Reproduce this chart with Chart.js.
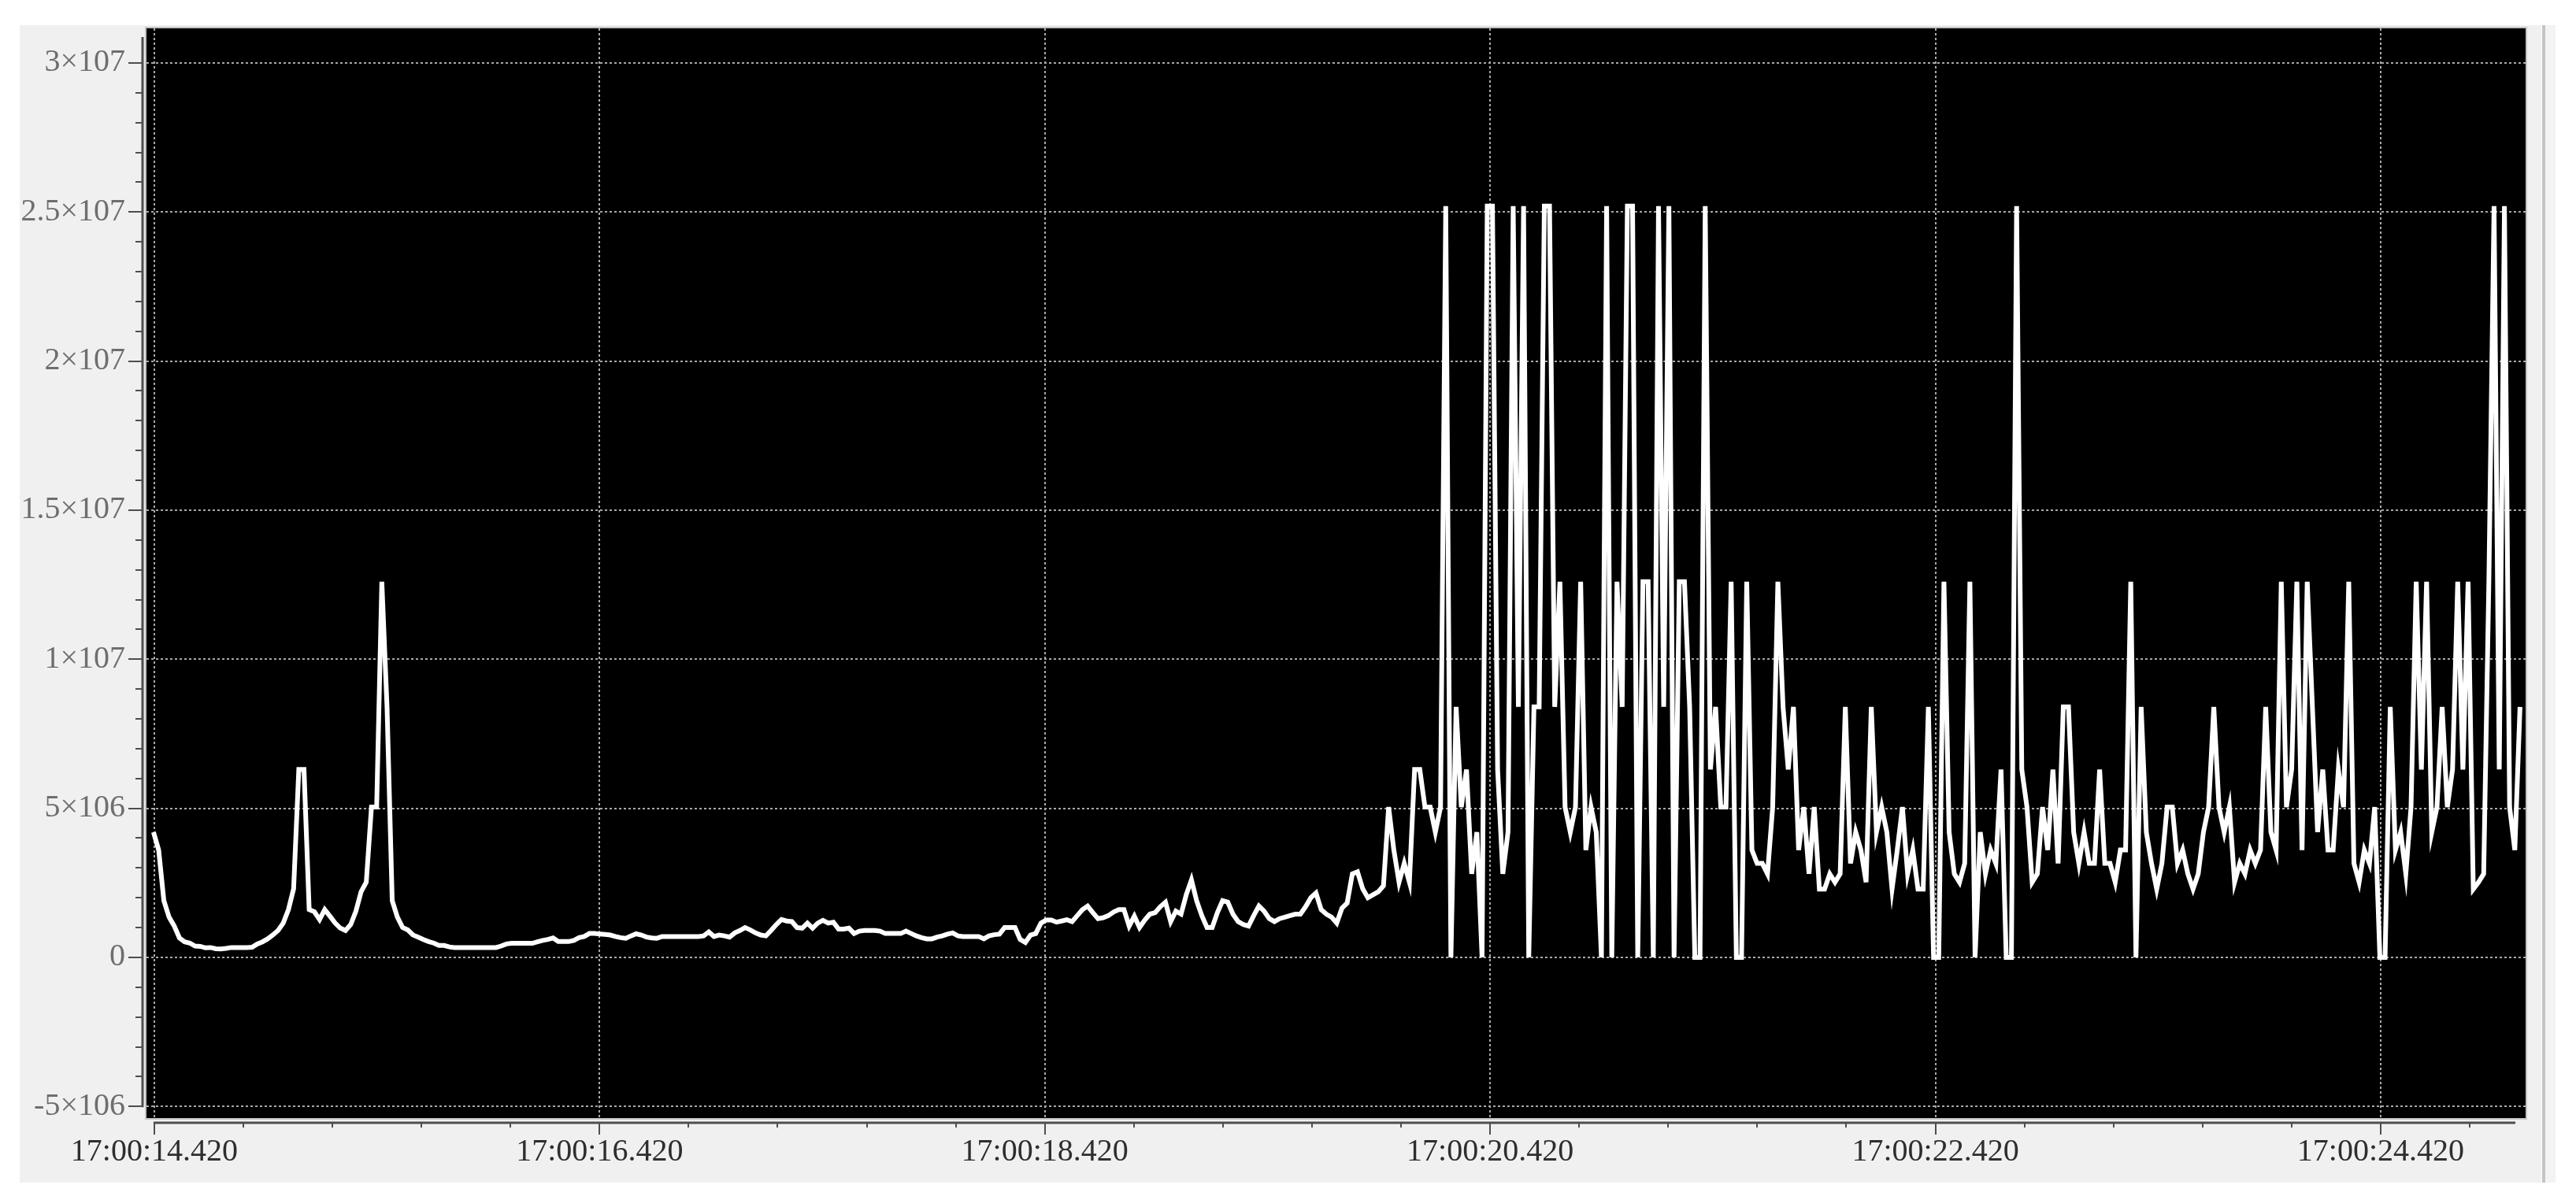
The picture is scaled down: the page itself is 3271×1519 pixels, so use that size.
<!DOCTYPE html>
<html>
<head>
<meta charset="utf-8">
<title>17:00 trace</title>
<script src="https://cdn.jsdelivr.net/npm/chart.js@4.4.1/dist/chart.umd.min.js"></script>
<style>
  html, body { margin: 0; padding: 0; background: #fff; }
  body { width: 3271px; height: 1519px; position: relative; overflow: hidden; }
  #panel { position: absolute; left: 25px; top: 32px; width: 3202px; height: 1470px; background: #f0f0f0; }
  #bar { position: absolute; left: 3228px; top: 32px; width: 4px; height: 1470px; background: #c4c4c4; }
  #barPad { position: absolute; left: 3232px; top: 32px; width: 13px; height: 1470px; background: #f3f3f3; }
  #lineChart { position: absolute; left: 0; top: 0; }
</style>
</head>
<body>
<div id="panel"></div><div id="bar"></div><div id="barPad"></div>
<canvas id="lineChart" width="3271" height="1519"></canvas>
<script>
// values in units of 1e6 from left to right
const startupValues = [
  4.2, 3.6, 1.9, 1.35, 1.05, 0.65, 0.52, 0.48, 0.38, 0.37,
  0.32, 0.33, 0.29, 0.28, 0.3, 0.33, 0.33, 0.33, 0.33, 0.34,
  0.45, 0.52, 0.62, 0.75, 0.9, 1.15, 1.6, 2.3, 6.3, 6.3,
  1.6, 1.53, 1.27, 1.6, 1.38, 1.15, 0.98, 0.9, 1.1, 1.55,
  2.2, 2.52, 5.04, 5.04, 12.6, 8.4, 1.9, 1.35, 1.0, 0.92,
  0.75, 0.68, 0.6, 0.53, 0.48, 0.4, 0.4, 0.35, 0.33, 0.33,
  0.33, 0.33, 0.33, 0.33, 0.33, 0.33, 0.33, 0.38, 0.45, 0.47,
  0.47, 0.47, 0.47, 0.47, 0.52, 0.57, 0.6, 0.65, 0.53, 0.53,
  0.53, 0.57, 0.66, 0.7
];

const steadyValues = [
  0.8, 0.8, 0.78, 0.77, 0.75, 0.7, 0.66, 0.64, 0.72, 0.79,
  0.75, 0.68, 0.65, 0.64, 0.7, 0.7, 0.7, 0.7, 0.7, 0.7,
  0.7, 0.7, 0.72, 0.85, 0.7, 0.75, 0.72, 0.68, 0.82, 0.9,
  1.0, 0.92, 0.82, 0.75, 0.72, 0.9, 1.1, 1.27, 1.22, 1.2,
  1.0, 0.98, 1.15, 0.98, 1.15, 1.24, 1.15, 1.18, 0.95, 0.95,
  0.98, 0.8, 0.88, 0.9, 0.9, 0.9, 0.88, 0.8, 0.8, 0.8,
  0.8, 0.88, 0.8, 0.72, 0.66, 0.62, 0.62, 0.68, 0.72, 0.78,
  0.82, 0.72, 0.7, 0.7, 0.7, 0.7, 0.62, 0.72, 0.76, 0.78,
  1.0, 1.0, 1.0, 0.6, 0.5, 0.75, 0.8, 1.15, 1.25, 1.25,
  1.18, 1.22, 1.26, 1.2, 1.4, 1.6, 1.72, 1.5, 1.3, 1.33,
  1.4, 1.52, 1.6, 1.6, 1.05, 1.38, 1.0, 1.25, 1.45, 1.5,
  1.7, 1.85, 1.2, 1.55, 1.45, 2.1, 2.6, 1.9, 1.4, 1.0,
  1.0, 1.5, 1.9, 1.85, 1.45, 1.2, 1.1, 1.05, 1.4, 1.72,
  1.55, 1.3, 1.2, 1.3, 1.35, 1.4, 1.45, 1.45, 1.7, 2.0,
  2.16, 1.6, 1.45, 1.35, 1.15, 1.65, 1.82, 2.8, 2.87, 2.3,
  2.0, 2.1
];

const burstValues = [
  2.2, 2.4, 5.04, 3.6, 2.52, 3.15, 2.52, 6.3, 6.3, 5.04,
  5.04, 4.2, 5.04, 25.2, 0, 8.4, 5.04, 6.3, 2.8, 4.2,
  0, 25.2, 25.2, 6.3, 2.8, 4.2, 25.2, 8.4, 25.2, 0,
  8.4, 8.4, 25.2, 25.2, 8.4, 12.6, 5.04, 4.2, 5.04, 12.6,
  3.6, 5.04, 4.2, 0, 25.2, 0, 12.6, 8.4, 25.2, 25.2,
  0, 12.6, 12.6, 0, 25.2, 8.4, 25.2, 0, 12.6, 12.6,
  8.4, 0, 0, 25.2, 6.3, 8.4, 5.04, 5.04, 12.6,
  0
];

const middleValues = [
  0, 12.6, 3.6, 3.15, 3.15, 2.8, 5.04, 12.6, 8.4, 6.3,
  8.4, 3.6, 5.04, 2.8, 5.04, 2.29, 2.29, 2.8, 2.52, 2.8,
  8.4, 3.15, 4.2, 3.6, 2.52, 8.4, 4.2, 5.04, 4.2, 2.29,
  3.6, 5.04, 2.8, 3.6, 2.29, 2.29, 8.4, 0, 0, 12.6,
  4.2, 2.8, 2.52, 3.15, 12.6, 0, 4.2, 2.8, 3.6, 3.15,
  6.3, 0, 0, 25.2, 6.3, 5.04, 2.52, 2.8, 5.04, 3.6,
  6.3, 3.15, 8.4, 8.4, 4.2, 3.15, 4.2, 3.15, 3.15, 6.3,
  3.15, 3.15, 2.52, 3.6, 3.6, 12.6, 0, 8.4
];

const tailValues = [
  4.2, 3.15, 2.29, 3.15, 5.04, 5.04, 3.15, 3.6, 2.8, 2.29,
  2.8, 4.2, 5.04, 8.4, 5.04, 4.2, 5.04, 2.52, 3.15, 2.8,
  3.6, 3.15, 3.6, 8.4, 4.2, 3.6, 12.6, 5.04, 6.3, 12.6,
  3.6, 12.6, 8.4, 4.2, 6.3, 3.6, 3.6, 6.3, 5.04, 12.6,
  3.15, 2.52, 3.6, 3.15, 5.04, 0, 0, 8.4, 3.6, 4.2,
  2.8, 5.04, 12.6, 6.3, 12.6, 4.2, 5.04, 8.4, 5.04, 6.3,
  12.6, 6.3, 12.6, 2.29, 2.52, 2.8, 12.6, 25.2, 6.3, 25.2,
  5.04, 3.6, 8.4
];

// time in seconds after 17:00:00, samples are evenly spaced
const firstSample = 14.4165;
const sampleStep = 0.02331;

const timeTickValues = [14.42, 16.42, 18.42, 20.42, 22.42, 24.42];
const timeTickLabels = ['17:00:14.420', '17:00:16.420', '17:00:18.420', '17:00:20.420', '17:00:22.420', '17:00:24.420'];
const yTickValues = [-5, 0, 5, 10, 15, 20, 25, 30];
const yTickLabels = ['-5×106', '0', '5×106', '1×107', '1.5×107', '2×107', '2.5×107', '3×107'];

const values = startupValues.concat(steadyValues, burstValues, middleValues, tailValues);
const points = values.map((v, i) => ({ x: firstSample + i * sampleStep, y: v }));

const labelFont = { family: 'Liberation Serif', size: 40 };

// black plot area, outside axis lines and the minor ticks
const scopeFrame = {
  id: 'scopeFrame',
  beforeDraw(chart) {
    const { ctx, chartArea: a } = chart;
    ctx.save();
    ctx.fillStyle = '#000';
    ctx.fillRect(a.left, a.top, a.width, a.height);
    ctx.restore();
  },
  afterDraw(chart) {
    const { ctx, chartArea: a, scales } = chart;
    const xs = scales.x, ys = scales.y;
    ctx.save();
    ctx.strokeStyle = '#c4c4c4';
    ctx.lineWidth = 2;
    ctx.strokeRect(a.left - 1, a.top - 1, a.width + 2, a.height + 2);

    ctx.strokeStyle = '#4e4e4e';
    // y axis
    const ax = a.left - 5;
    ctx.lineWidth = 3;
    ctx.beginPath();
    ctx.moveTo(ax, a.top + 11);
    ctx.lineTo(ax, ys.getPixelForValue(yTickValues[0]) + 1);
    ctx.stroke();
    ctx.lineWidth = 2;
    for (let v = yTickValues[0]; v <= yTickValues[yTickValues.length - 1]; v++) {
      const y = Math.round(ys.getPixelForValue(v));
      const len = v % 5 === 0 ? 18 : 9;
      ctx.beginPath();
      ctx.moveTo(ax, y);
      ctx.lineTo(ax - len, y);
      ctx.stroke();
    }
    // x axis
    const ay = a.bottom + 6;
    ctx.lineWidth = 3;
    ctx.beginPath();
    ctx.moveTo(xs.getPixelForValue(timeTickValues[0]) - 1, ay);
    ctx.lineTo(a.right - 13, ay);
    ctx.stroke();
    ctx.lineWidth = 2;
    for (let k = 0; ; k++) {
      const t = timeTickValues[0] + k * 0.4;
      if (t > xs.max) break;
      const x = Math.round(xs.getPixelForValue(t));
      const len = k % 5 === 0 ? 15 : 6;
      ctx.beginPath();
      ctx.moveTo(x, ay);
      ctx.lineTo(x, ay + len);
      ctx.stroke();
    }
    ctx.restore();
  }
};

const config = {
  type: 'line',
  data: {
    datasets: [{
      data: points,
      borderColor: '#ffffff',
      borderWidth: 6,
      pointRadius: 0,
      tension: 0,
      fill: false,
    }]
  },
  options: {
    responsive: false,
    animation: false,
    devicePixelRatio: 1,
    layout: {
      padding: { left: 12, top: 36, right: 64, bottom: 39 }
    },
    plugins: {
      legend: { display: false },
      tooltip: { enabled: false },
    },
    scales: {
      x: {
        type: 'linear',
        min: 14.385,
        max: 25.071,
        afterBuildTicks: function(scale) {
          scale.ticks = timeTickValues.map(v => ({ value: v }));
        },
        afterFit: function(scale) {
          scale.height = 60;
        },
        grid: { color: '#a8a8a8', lineWidth: 2, drawTicks: false },
        border: { display: false, dash: [3, 3] },
        ticks: {
          autoSkip: false,
          maxRotation: 0,
          padding: 19,
          color: '#2e2e2e',
          font: labelFont,
          callback: function(value, index) {
            return timeTickLabels[index];
          }
        }
      },
      y: {
        type: 'linear',
        min: -5.39,
        max: 31.16,
        afterBuildTicks: function(scale) {
          scale.ticks = yTickValues.map(v => ({ value: v }));
        },
        afterFit: function(scale) {
          // fixed width, and no extra room above the top label
          scale.width = 174;
          scale.paddingTop = 0;
          scale.paddingBottom = 0;
        },
        grid: { color: '#a8a8a8', lineWidth: 2, drawTicks: false },
        border: { display: false, dash: [3, 3] },
        ticks: {
          padding: 27,
          color: '#6e6e6e',
          font: labelFont,
          callback: function(value, index) {
            return yTickLabels[index];
          }
        }
      }
    }
  },
  plugins: [scopeFrame]
};

var lineChart = document.getElementById('lineChart');
const myLineChart = new Chart(lineChart, config);
</script>
</body>
</html>
